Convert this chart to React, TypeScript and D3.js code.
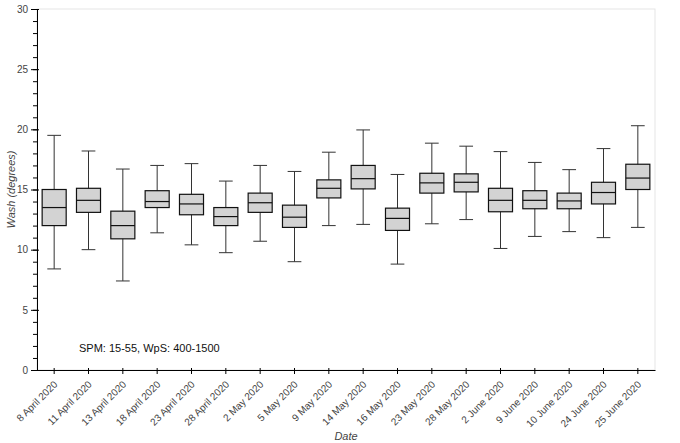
import { useEffect, useRef } from 'react';
import * as d3 from 'd3';

const dates = [
  '8 April 2020', '11 April 2020', '13 April 2020', '18 April 2020', '23 April 2020',
  '28 April 2020', '2 May 2020', '5 May 2020', '9 May 2020', '14 May 2020',
  '16 May 2020', '23 May 2020', '28 May 2020', '2 June 2020', '9 June 2020',
  '10 June 2020', '24 June 2020', '25 June 2020',
];
const whiskerLow = [8.4, 10.0, 7.4, 11.4, 10.4, 9.75, 10.7, 9.0, 12.0, 12.1, 8.8, 12.15, 12.5, 10.1, 11.1, 11.5, 11.0, 11.85];
const q1 = [12.0, 13.1, 10.9, 13.5, 12.9, 12.0, 13.1, 11.85, 14.3, 15.05, 11.6, 14.7, 14.8, 13.15, 13.4, 13.4, 13.8, 15.0];
const median = [13.5, 14.1, 12.0, 14.0, 13.8, 12.75, 13.9, 12.7, 15.1, 15.9, 12.6, 15.55, 15.6, 14.1, 14.1, 14.05, 14.75, 15.95];
const q3 = [15.0, 15.1, 13.2, 14.9, 14.6, 13.5, 14.7, 13.7, 15.8, 17.0, 13.45, 16.35, 16.3, 15.1, 14.9, 14.7, 15.6, 17.1];
const whiskerHigh = [19.5, 18.2, 16.7, 17.0, 17.15, 15.7, 17.0, 16.5, 18.1, 19.95, 16.25, 18.85, 18.6, 18.15, 17.25, 16.65, 18.4, 20.3];
const yMajorTicks = [0, 5, 10, 15, 20, 25, 30];

const annotation = 'SPM: 15-55, WpS: 400-1500';

const App = () => {
  const svgRef = useRef<SVGSVGElement | null>(null);

  useEffect(() => {
    const width = 680;
    const height = 443;
    const left = 37;
    const right = 655;
    const top = 9;
    const bottom = 370;
    const font = '"Liberation Sans", Arial, Helvetica, sans-serif';

    const svg = d3.select(svgRef.current);
    svg.selectAll('*').remove();
    svg.attr('width', width).attr('height', height);

    const x = d3.scaleBand<string>().domain(dates).range([left, right]).padding(0);
    const y = d3.scaleLinear().domain([0, 30]).range([bottom, top]);

    // plot outline
    svg.append('rect')
      .attr('x', left).attr('y', top)
      .attr('width', right - left).attr('height', bottom - top)
      .attr('fill', 'none')
      .attr('stroke', '#e5e5e5')
      .attr('stroke-width', 1);

    const boxW = x.bandwidth() * 0.7;
    const capW = x.bandwidth() * 0.4;

    const boxes = svg.append('g')
      .selectAll('g')
      .data(dates)
      .enter()
      .append('g')
      .attr('transform', d => `translate(${(x(d) as number) + x.bandwidth() / 2},0)`);

    // whiskers
    boxes.append('line')
      .attr('x1', 0).attr('x2', 0)
      .attr('y1', (_, i) => y(whiskerHigh[i]))
      .attr('y2', (_, i) => y(whiskerLow[i]))
      .attr('stroke', '#333');
    boxes.append('line')
      .attr('x1', -capW / 2).attr('x2', capW / 2)
      .attr('y1', (_, i) => y(whiskerHigh[i]))
      .attr('y2', (_, i) => y(whiskerHigh[i]))
      .attr('stroke', '#333');
    boxes.append('line')
      .attr('x1', -capW / 2).attr('x2', capW / 2)
      .attr('y1', (_, i) => y(whiskerLow[i]))
      .attr('y2', (_, i) => y(whiskerLow[i]))
      .attr('stroke', '#333');

    // boxes
    boxes.append('rect')
      .attr('x', -boxW / 2)
      .attr('width', boxW)
      .attr('y', (_, i) => y(q3[i]))
      .attr('height', (_, i) => y(q1[i]) - y(q3[i]))
      .attr('fill', '#d3d3d3')
      .attr('stroke', '#111')
      .attr('stroke-width', 1.2);
    boxes.append('line')
      .attr('x1', -boxW / 2).attr('x2', boxW / 2)
      .attr('y1', (_, i) => y(median[i]))
      .attr('y2', (_, i) => y(median[i]))
      .attr('stroke', '#111')
      .attr('stroke-width', 1.2);

    // y axis
    const yMinor = svg.append('g')
      .attr('transform', `translate(${left},0)`)
      .call(d3.axisLeft(y).tickValues(d3.range(0, 31, 1)).tickSize(4).tickFormat(() => ''));
    yMinor.select('.domain').remove();

    const yAxis = svg.append('g')
      .attr('transform', `translate(${left},0)`)
      .call(d3.axisLeft(y).tickValues(yMajorTicks).tickSize(6).tickSizeOuter(0).tickPadding(3));
    yAxis.selectAll('.tick line').attr('x1', 2);
    yAxis.select('.domain').attr('stroke', '#000');
    yAxis.selectAll('text')
      .attr('fill', '#444')
      .style('font-family', font)
      .style('font-size', '10px');

    // x axis
    const xAxis = svg.append('g')
      .attr('transform', `translate(0,${bottom})`)
      .call(d3.axisBottom(x).tickSize(4).tickSizeOuter(0));
    xAxis.selectAll('.tick line').attr('y1', -2);
    xAxis.select('.domain').attr('stroke', '#000');
    xAxis.selectAll('text')
      .attr('fill', '#444')
      .attr('text-anchor', 'end')
      .attr('y', 0)
      .attr('dy', 0)
      .attr('transform', 'translate(4,15) rotate(-45)')
      .style('font-family', font)
      .style('font-size', '10px');

    // axis titles
    svg.append('text')
      .attr('x', (left + right) / 2)
      .attr('y', 440)
      .attr('text-anchor', 'middle')
      .attr('fill', '#444')
      .style('font-family', font)
      .style('font-size', '11px')
      .style('font-style', 'italic')
      .text('Date');

    svg.append('text')
      .attr('transform', `translate(15,${(top + bottom) / 2}) rotate(-90)`)
      .attr('text-anchor', 'middle')
      .attr('fill', '#444')
      .style('font-family', font)
      .style('font-size', '11px')
      .style('font-style', 'italic')
      .text('Wash (degrees)');

    svg.append('text')
      .attr('x', 79)
      .attr('y', 352)
      .attr('fill', '#111')
      .style('font-family', font)
      .style('font-size', '11px')
      .text(annotation);
  }, []);

  return (
    <svg ref={svgRef} style={{ position: 'absolute', left: 0, top: 0, background: '#fff' }} />
  );
};

export default App;
